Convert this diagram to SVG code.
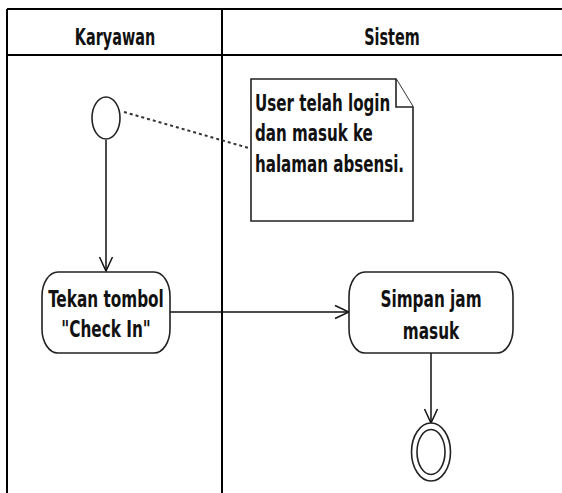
<svg xmlns="http://www.w3.org/2000/svg" width="562" height="493" viewBox="0 0 562 493">
<defs>
<style>
.frame{stroke:#000;stroke-width:2;fill:none}
.node{fill:#fff;stroke:#222;stroke-width:1.6}
.edge{stroke:#111;stroke-width:1.5;fill:none}
.dash{stroke:#333;stroke-width:2;fill:none;stroke-dasharray:3 3}
.t{font-family:"DejaVu Sans Condensed","DejaVu Sans",sans-serif;font-stretch:condensed;font-weight:bold;fill:#111;text-anchor:middle;font-size:16px}
.a{font-size:17px}
.nt{font-family:"DejaVu Sans Condensed","DejaVu Sans",sans-serif;font-stretch:condensed;font-weight:bold;fill:#111;font-size:16.8px}
</style>
<marker id="arr" viewBox="0 0 16 16" refX="15" refY="8" markerWidth="16" markerHeight="16" markerUnits="userSpaceOnUse" orient="auto">
<path d="M1,1.5 L15,8 L1,14.5" fill="none" stroke="#111" stroke-width="1.5"/>
</marker>
</defs>
<rect width="562" height="493" fill="#fff"/>
<g id="lanes">
<path class="frame" d="M7,9 H562 M7,55 H562 M7,9 V493 M222,9 V493"/>
<g transform="translate(115,45) scale(1,1.4)"><text class="t" x="0" y="0">Karyawan</text></g>
<g transform="translate(392,45) scale(1,1.4)"><text class="t" x="0" y="0">Sistem</text></g>
</g>
<g id="connectors">
<line class="dash" x1="124" y1="112" x2="252" y2="149"/>
<line class="edge" x1="106" y1="140" x2="106" y2="271" marker-end="url(#arr)"/>
<line class="edge" x1="170" y1="312" x2="349" y2="312" marker-end="url(#arr)"/>
<line class="edge" x1="431" y1="353" x2="431" y2="423" marker-end="url(#arr)"/>
</g>
<g id="start">
<ellipse class="node" cx="106" cy="118" rx="14" ry="21"/>
</g>
<g id="note">
<path class="node" d="M251,79 H396 L413,107 V221 H251 Z"/>
<path class="node" fill="none" d="M396,79 V107 H413"/>
<g transform="translate(255,111) scale(1,1.35)"><text class="nt" x="0" y="0">User telah login</text></g>
<g transform="translate(255,141) scale(1,1.35)"><text class="nt" x="0" y="0">dan masuk ke</text></g>
<g transform="translate(255,172) scale(1,1.35)"><text class="nt" x="0" y="0">halaman absensi.</text></g>
</g>
<g id="tekan">
<rect class="node" x="42" y="272" width="128" height="81" rx="16" ry="24"/>
<g transform="translate(106,307) scale(1,1.35)"><text class="t a" x="0" y="0">Tekan tombol</text></g>
<g transform="translate(106,337) scale(1,1.35)"><text class="t a" x="0" y="0">"Check In"</text></g>
</g>
<g id="simpan">
<rect class="node" x="349" y="272" width="164" height="81" rx="16" ry="24"/>
<g transform="translate(431,307) scale(1,1.35)"><text class="t a" x="0" y="0">Simpan jam</text></g>
<g transform="translate(431,339) scale(1,1.35)"><text class="t a" x="0" y="0">masuk</text></g>
</g>
<g id="end">
<ellipse class="node" cx="431" cy="452" rx="19.5" ry="29"/>
<ellipse class="node" cx="431" cy="452" rx="14" ry="22.5"/>
</g>
</svg>
